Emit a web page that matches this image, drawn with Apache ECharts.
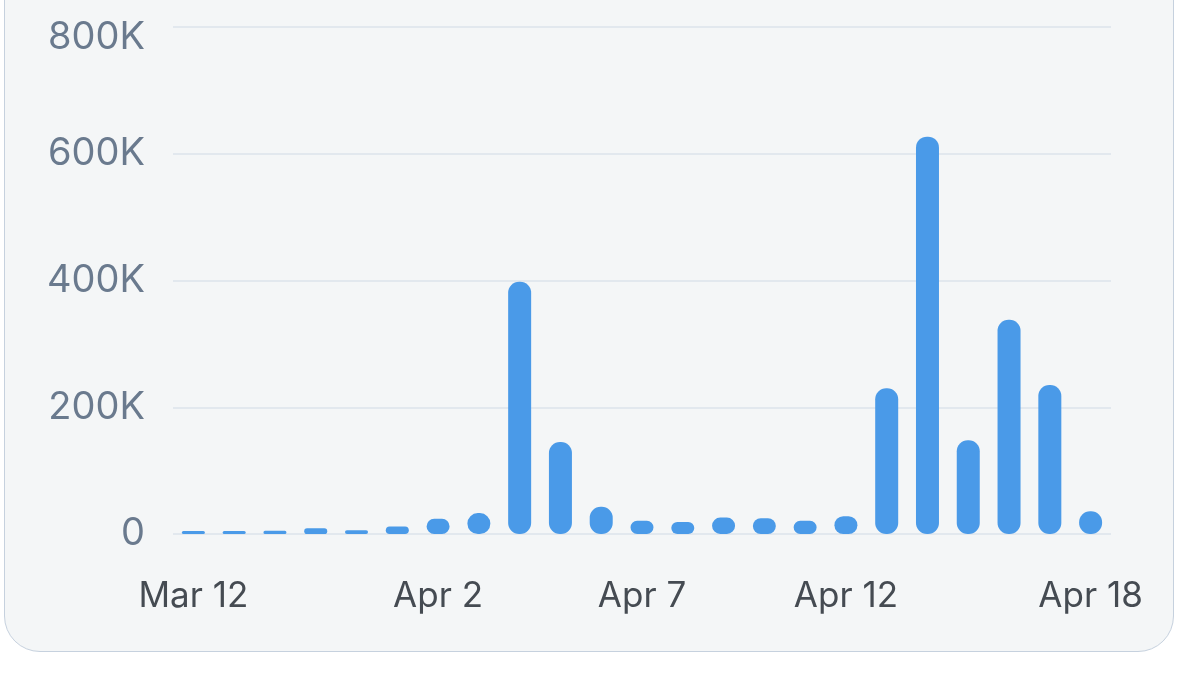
<!DOCTYPE html>
<html>
<head>
<meta charset="utf-8">
<script src="https://cdn.jsdelivr.net/npm/echarts@6/dist/echarts.min.js"></script>
<style>
  html, body { margin: 0; padding: 0; background: #ffffff; }
  #card {
    position: absolute; left: 4px; top: -40px; width: 1168px; height: 690px;
    background: #f4f6f7; border: 1.5px solid #c6d1de; border-radius: 0 0 36px 36px;
  }
  #chart { position: absolute; left: 0; top: 0; width: 1200px; height: 690px; }
</style>
</head>
<body>
<div id="card"></div>
<div id="chart"></div>
<script>
// dates shown on the x axis (only some get a label)
const days = ['Mar 12', 'Mar 17', 'Mar 21', 'Mar 25', 'Mar 28', 'Apr 1', 'Apr 2', 'Apr 3', 'Apr 4',
  'Apr 5', 'Apr 6', 'Apr 7', 'Apr 8', 'Apr 9', 'Apr 10', 'Apr 11', 'Apr 12', 'Apr 13', 'Apr 14',
  'Apr 15', 'Apr 16', 'Apr 17', 'Apr 18']
const shownLabels = ['Mar 12', 'Apr 2', 'Apr 7', 'Apr 12', 'Apr 18']
const values = [4000, 4000, 5000, 9000, 6000, 12000, 24000, 33000, 398000,
  145000, 43000, 21000, 19000, 26000, 25000, 21000, 28000, 230000, 627000,
  148000, 338000, 235000, 36000]
const yTicks = [0, 200000, 400000, 600000, 800000]

const chart = echarts.init(document.getElementById('chart'))

const option = {
    animation: false,
    grid: { left: 173, right: 89, top: 27, bottom: 156, containLabel: false },
    xAxis: {
        type: 'category',
        data: days,
        axisLine: { show: false },
        axisTick: { show: false },
        axisLabel: {
            interval: (i, v) => shownLabels.includes(v),
            margin: 45,
            color: '#454b52',
            fontFamily: 'Inter',
            fontSize: 35
        }
    },
    yAxis: {
        type: 'value',
        min: yTicks[0],
        max: yTicks[yTicks.length - 1],
        interval: 200000,
        axisLabel: {
            margin: 28,
            color: '#6a7a8e',
            fontFamily: 'Inter',
            fontSize: 38,
            // top label sits a bit lower than its grid line, as in the original
            formatter: (v) => {
                const t = v === 0 ? '0' : (v / 1000) + 'K'
                return v === yTicks[yTicks.length - 1] ? '{top|' + t + '}' : t
            },
            rich: {
                top: { fontFamily: 'Inter', fontSize: 38, color: '#6a7a8e', padding: [22, 0, 0, 0] }
            }
        },
        splitLine: { lineStyle: { color: '#dce3eb', width: 1.5 } }
    },
    series: [{
        type: 'bar',
        data: values,
        barWidth: 23,
        barMinHeight: 3,
        itemStyle: { color: '#4a9ae8', borderRadius: 11 }
    }]
}

chart.setOption(option)
</script>
</body>
</html>
